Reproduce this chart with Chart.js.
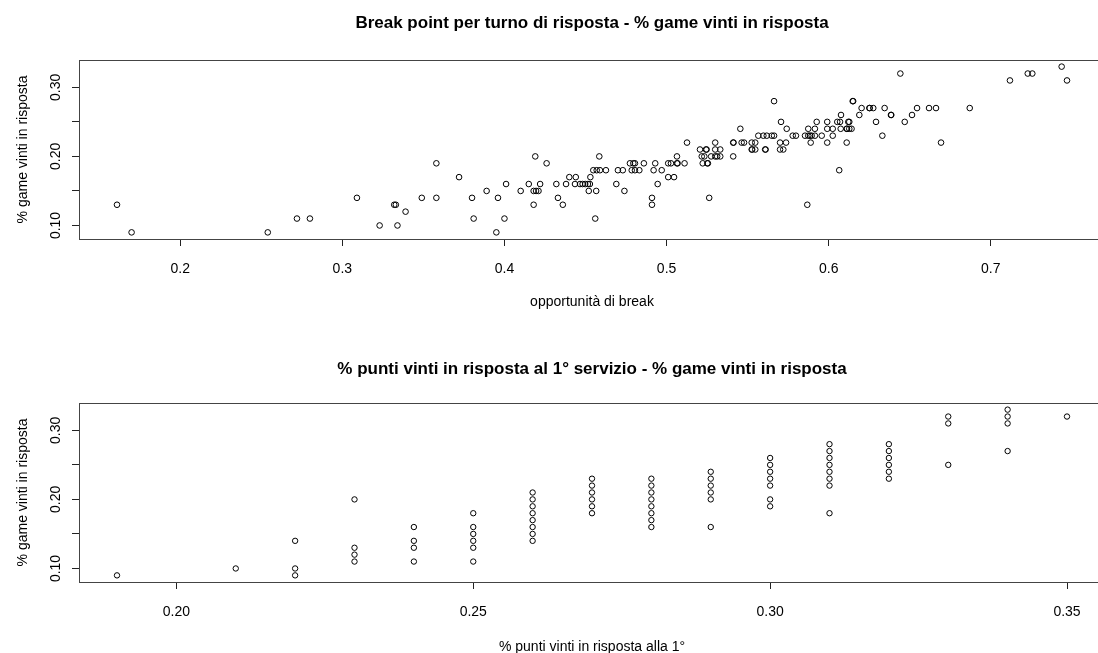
<!DOCTYPE html>
<html>
<head>
<meta charset="utf-8">
<script src="https://cdn.jsdelivr.net/npm/chart.js@4.4.1/dist/chart.umd.min.js"></script>
<style>
  html, body { margin: 0; padding: 0; background: #fff; overflow: hidden; width: 1098px; height: 653px; }
  #wrap { position: relative; width: 1120px; height: 653px; }
  canvas { position: absolute; left: 0; }
</style>
</head>
<body>
<div id="wrap">
  <canvas id="chartBreak" width="1120" height="326" style="top:0"></canvas>
  <canvas id="chartFirst" width="1120" height="327" style="top:326px"></canvas>
</div>
<script>
// Break point opportunities per return game (x) and share of return games won (y)
const breakOpp = [
  0.161, 0.170, 0.254, 0.272, 0.280, 0.309, 0.323, 0.332, 0.333, 0.334,
  0.339, 0.349, 0.358, 0.358, 0.372, 0.380, 0.381, 0.389, 0.395, 0.396,
  0.400, 0.401, 0.410, 0.415, 0.418, 0.4195, 0.421, 0.418, 0.419, 0.422,
  0.426, 0.432, 0.433, 0.436, 0.438, 0.440, 0.4435, 0.444, 0.4466, 0.4482,
  0.4498, 0.4515, 0.4527, 0.452, 0.453, 0.4548, 0.4569, 0.4589, 0.4626, 0.4566,
  0.456, 0.4585, 0.470, 0.473, 0.469, 0.474, 0.4774, 0.4795, 0.4805, 0.4785,
  0.4805, 0.4832, 0.486, 0.491, 0.491, 0.493, 0.492, 0.4945, 0.497, 0.501,
  0.5027, 0.5064, 0.5068, 0.5111, 0.501, 0.5046, 0.5064, 0.5126, 0.5206, 0.5243,
  0.5247, 0.5217, 0.5233, 0.5275, 0.530, 0.5312, 0.5331, 0.5223, 0.5251, 0.5255,
  0.5263, 0.530, 0.530, 0.5331, 0.5411, 0.5413, 0.5411, 0.5455, 0.5463, 0.5478,
  0.5525, 0.5547, 0.5525, 0.5528, 0.5547, 0.5566, 0.5597, 0.5618, 0.5649, 0.5663,
  0.5608, 0.5611, 0.5663, 0.570, 0.5737, 0.570, 0.572, 0.5706, 0.5741, 0.5778,
  0.5798, 0.5868, 0.5854, 0.5874, 0.5885, 0.5895, 0.5915, 0.5957, 0.5874, 0.5915,
  0.5889, 0.5926, 0.5991, 0.5991, 0.6025, 0.5991, 0.6025, 0.6053, 0.607, 0.6076,
  0.6065, 0.6074, 0.6111, 0.6113, 0.6127, 0.6141, 0.6111, 0.6121, 0.6127, 0.6148,
  0.6151, 0.6189, 0.6203, 0.6251, 0.6253, 0.6275, 0.6292, 0.6331, 0.6345, 0.6384,
  0.6386, 0.6442, 0.6469, 0.6514, 0.6545, 0.6619, 0.6662, 0.6693, 0.687, 0.7118,
  0.7228, 0.7256, 0.7437, 0.747
];
const gamesWonA = [
  0.13, 0.09, 0.09, 0.11, 0.11, 0.14, 0.10, 0.13, 0.13, 0.10,
  0.12, 0.14, 0.19, 0.14, 0.17, 0.14, 0.11, 0.15, 0.09, 0.14,
  0.11, 0.16, 0.15, 0.16, 0.15, 0.15, 0.15, 0.13, 0.20, 0.16,
  0.19, 0.16, 0.14, 0.13, 0.16, 0.17, 0.16, 0.17, 0.16, 0.16,
  0.16, 0.16, 0.16, 0.15, 0.17, 0.18, 0.18, 0.18, 0.18, 0.15,
  0.11, 0.20, 0.18, 0.18, 0.16, 0.15, 0.19, 0.19, 0.19, 0.18,
  0.18, 0.18, 0.19, 0.14, 0.13, 0.19, 0.18, 0.16, 0.18, 0.19,
  0.19, 0.19, 0.19, 0.19, 0.17, 0.17, 0.20, 0.22, 0.21, 0.21,
  0.21, 0.20, 0.20, 0.20, 0.20, 0.20, 0.20, 0.19, 0.19, 0.19,
  0.14, 0.22, 0.21, 0.21, 0.22, 0.22, 0.20, 0.24, 0.22, 0.22,
  0.22, 0.22, 0.21, 0.21, 0.21, 0.23, 0.23, 0.23, 0.23, 0.23,
  0.21, 0.21, 0.28, 0.22, 0.22, 0.21, 0.21, 0.25, 0.24, 0.23,
  0.23, 0.13, 0.23, 0.23, 0.23, 0.23, 0.23, 0.23, 0.24, 0.24,
  0.22, 0.25, 0.25, 0.24, 0.24, 0.22, 0.23, 0.25, 0.25, 0.26,
  0.18, 0.24, 0.24, 0.24, 0.24, 0.24, 0.22, 0.25, 0.25, 0.28,
  0.28, 0.26, 0.27, 0.27, 0.27, 0.27, 0.25, 0.23, 0.27, 0.26,
  0.26, 0.32, 0.25, 0.26, 0.27, 0.27, 0.27, 0.22, 0.27, 0.31,
  0.32, 0.32, 0.33, 0.31
];

// Return points won against first serve (x) and share of return games won (y)
const firstRetPts = [
  0.19,
  0.21,
  0.22, 0.22, 0.22,
  0.23, 0.23, 0.23, 0.23,
  0.24, 0.24, 0.24, 0.24,
  0.25, 0.25, 0.25, 0.25, 0.25, 0.25,
  0.26, 0.26, 0.26, 0.26, 0.26, 0.26, 0.26, 0.26,
  0.27, 0.27, 0.27, 0.27, 0.27, 0.27,
  0.28, 0.28, 0.28, 0.28, 0.28, 0.28, 0.28, 0.28,
  0.29, 0.29, 0.29, 0.29, 0.29, 0.29,
  0.30, 0.30, 0.30, 0.30, 0.30, 0.30, 0.30,
  0.31, 0.31, 0.31, 0.31, 0.31, 0.31, 0.31, 0.31,
  0.32, 0.32, 0.32, 0.32, 0.32, 0.32,
  0.33, 0.33, 0.33,
  0.34, 0.34, 0.34, 0.34,
  0.35
];
const gamesWonB = [
  0.09,
  0.10,
  0.14, 0.10, 0.09,
  0.20, 0.13, 0.12, 0.11,
  0.16, 0.14, 0.13, 0.11,
  0.18, 0.16, 0.15, 0.14, 0.13, 0.11,
  0.21, 0.20, 0.19, 0.18, 0.17, 0.16, 0.15, 0.14,
  0.23, 0.22, 0.21, 0.20, 0.19, 0.18,
  0.23, 0.22, 0.21, 0.20, 0.19, 0.18, 0.17, 0.16,
  0.24, 0.23, 0.22, 0.21, 0.20, 0.16,
  0.26, 0.25, 0.24, 0.23, 0.22, 0.20, 0.19,
  0.28, 0.27, 0.26, 0.25, 0.24, 0.23, 0.22, 0.18,
  0.28, 0.27, 0.26, 0.25, 0.24, 0.23,
  0.32, 0.31, 0.25,
  0.33, 0.32, 0.31, 0.27,
  0.32
];

// Axis ticks and their labels
const xTicksA = [0.2, 0.3, 0.4, 0.5, 0.6, 0.7];
const xTickLabelsA = ['0.2', '0.3', '0.4', '0.5', '0.6', '0.7'];
const xTicksB = [0.20, 0.25, 0.30, 0.35];
const xTickLabelsB = ['0.20', '0.25', '0.30', '0.35'];
const yTicks = [0.10, 0.15, 0.20, 0.25, 0.30];
const yTickLabels = ['0.10', '', '0.20', '', '0.30'];

const FONT = '"Liberation Sans", Arial, Helvetica, sans-serif';
const CANVAS_W = 1120;
const BOX_LEFT = 79;
const BOX_RIGHT = 1105;

// Axis limits padded by 4% of the data range on each side
function paddedRange(values) {
  const lo = Math.min(...values), hi = Math.max(...values);
  const d = (hi - lo) * 0.04;
  return [lo - d, hi + d];
}

// Draws the frame, tick labels, axis titles and main title
const frameAndText = {
  id: 'frameAndText',
  afterDraw(chart, args, o) {
    const { ctx, chartArea: a, scales: { x, y } } = chart;
    ctx.save();
    ctx.strokeStyle = '#444';
    ctx.lineWidth = 1;
    ctx.strokeRect(Math.round(a.left) + 0.5, Math.round(a.top) + 0.5,
                   Math.round(a.right - a.left), Math.round(a.bottom - a.top));

    ctx.fillStyle = '#000';
    ctx.font = `14px ${FONT}`;
    ctx.textAlign = 'center';
    ctx.textBaseline = 'alphabetic';
    o.xTicks.forEach((v, i) => {
      ctx.fillText(o.xLabels[i], x.getPixelForValue(v), a.bottom + 34);
    });
    yTicks.forEach((v, i) => {
      if (!yTickLabels[i]) return;
      ctx.save();
      ctx.translate(60, y.getPixelForValue(v));
      ctx.rotate(-Math.PI / 2);
      ctx.fillText(yTickLabels[i], 0, 0);
      ctx.restore();
    });

    const cx = (a.left + a.right) / 2;
    ctx.fillText(o.xTitle, cx, a.bottom + o.xTitleOffset);
    ctx.save();
    ctx.translate(27, (a.top + a.bottom) / 2);
    ctx.rotate(-Math.PI / 2);
    ctx.fillText(o.yTitle, 0, 0);
    ctx.restore();

    ctx.font = `bold 17px ${FONT}`;
    ctx.fillText(o.title, cx, o.titleBaseline);
    ctx.restore();
  }
};

function scatterChart(canvasId, xs, ys, cfg) {
  const canvas = document.getElementById(canvasId);
  const [xMin, xMax] = paddedRange(xs);
  const [yMin, yMax] = paddedRange(ys);
  const points = xs.map((v, i) => ({ x: v, y: ys[i] }));
  const gridOpts = {
    drawOnChartArea: false,
    drawTicks: true,
    tickLength: 7,
    color: '#222',
    lineWidth: 1
  };
  return new Chart(canvas, {
    type: 'scatter',
    data: {
      datasets: [{
        data: points,
        pointStyle: 'circle',
        pointRadius: cfg.radius,
        pointHoverRadius: cfg.radius,
        pointBorderWidth: 1,
        borderColor: '#000',
        backgroundColor: 'rgba(0,0,0,0)',
        clip: false
      }]
    },
    options: {
      responsive: false,
      animation: false,
      events: [],
      layout: {
        padding: { left: 0, top: cfg.boxTop, right: CANVAS_W - BOX_RIGHT, bottom: 0 }
      },
      plugins: {
        legend: { display: false },
        tooltip: { enabled: false },
        title: { display: false },
        frameAndText: {
          xTicks: cfg.xTicks,
          xLabels: cfg.xLabels,
          xTitle: cfg.xTitle,
          yTitle: '% game vinti in risposta',
          title: cfg.title,
          titleBaseline: cfg.titleBaseline,
          xTitleOffset: cfg.xTitleOffset
        }
      },
      scales: {
        x: {
          type: 'linear',
          position: 'bottom',
          min: xMin,
          max: xMax,
          afterBuildTicks: s => { s.ticks = cfg.xTicks.map(v => ({ value: v })); },
          afterFit: s => { s.height = canvas.height - cfg.boxBottom; },
          ticks: { display: false },
          grid: gridOpts,
          border: { display: false }
        },
        y: {
          type: 'linear',
          position: 'left',
          min: yMin,
          max: yMax,
          afterBuildTicks: s => { s.ticks = yTicks.map(v => ({ value: v })); },
          afterFit: s => { s.width = BOX_LEFT; },
          ticks: { display: false },
          grid: gridOpts,
          border: { display: false }
        }
      }
    },
    plugins: [frameAndText]
  });
}

scatterChart('chartBreak', breakOpp, gamesWonA, {
  title: 'Break point per turno di risposta - % game vinti in risposta',
  xTitle: 'opportunità di break',
  xTicks: xTicksA,
  xLabels: xTickLabelsA,
  boxTop: 60,
  boxBottom: 239,
  titleBaseline: 28,
  xTitleOffset: 67,
  radius: 2.8
});

scatterChart('chartFirst', firstRetPts, gamesWonB, {
  title: '% punti vinti in risposta al 1° servizio - % game vinti in risposta',
  xTitle: '% punti vinti in risposta alla 1°',
  xTicks: xTicksB,
  xLabels: xTickLabelsB,
  boxTop: 77,
  boxBottom: 256,
  titleBaseline: 48,
  xTitleOffset: 69,
  radius: 2.7
});
</script>
</body>
</html>
